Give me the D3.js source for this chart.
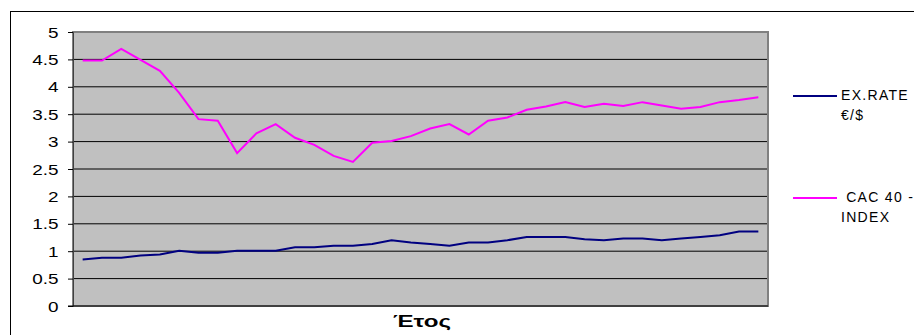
<!DOCTYPE html>
<html>
<head>
<meta charset="utf-8">
<script src="https://cdn.jsdelivr.net/npm/d3@7"></script>
<style>
  body { margin: 0; background: #ffffff; }
  svg { display: block; }
</style>
</head>
<body>
<script>
// periods along the x axis (no labels shown on the chart)
var periods = ["1", "2", "3", "4", "5", "6", "7", "8", "9", "10", "11", "12",
    "13", "14", "15", "16", "17", "18", "19", "20", "21", "22", "23", "24",
    "25", "26", "27", "28", "29", "30", "31", "32", "33", "34", "35", "36"];

var exRate = [0.85, 0.88, 0.88, 0.92, 0.94, 1.01, 0.97, 0.97, 1.01, 1.01, 1.01, 1.07,
    1.07, 1.10, 1.10, 1.13, 1.20, 1.16, 1.13, 1.10, 1.16, 1.16, 1.20, 1.26,
    1.26, 1.26, 1.22, 1.20, 1.23, 1.23, 1.20, 1.23, 1.26, 1.29, 1.36, 1.36];

var cacIndex = [4.48, 4.48, 4.69, 4.49, 4.29, 3.89, 3.41, 3.38, 2.79, 3.15, 3.32, 3.07,
    2.94, 2.74, 2.63, 2.98, 3.01, 3.10, 3.24, 3.32, 3.13, 3.38, 3.44, 3.58,
    3.64, 3.72, 3.63, 3.69, 3.65, 3.72, 3.66, 3.60, 3.63, 3.72, 3.76, 3.81];

var yTicks = [0, 0.5, 1, 1.5, 2, 2.5, 3, 3.5, 4, 4.5, 5];
var seriesNames = [["EX.RATE", "€/$"], [" CAC 40 -", "INDEX"]];
var seriesColors = ["#000080", "#ff00ff"];

var width = 914;
var height = 335;
var plotLeft = 73;
var plotRight = 768;
var plotTop = 32;
var plotBottom = 306;

var svg = d3.select("body")
    .append("svg")
    .attr("width", width)
    .attr("height", height)
    .attr("id", "drawhere")
    .style("font-family", "Arial, 'Liberation Sans', sans-serif");

// outer chart frame, runs off the right and bottom edges
svg.append("rect")
    .attr("x", 10.5)
    .attr("y", 11.5)
    .attr("width", 950)
    .attr("height", 400)
    .style("fill", "none")
    .style("stroke", "black");

var x = d3.scalePoint()
    .domain(periods)
    .range([plotLeft, plotRight])
    .padding(0.5);

var y = d3.scaleLinear()
    .domain([0, 5])
    .range([plotBottom, plotTop]);

// grey plot area
svg.append("rect")
    .attr("x", plotLeft)
    .attr("y", plotTop)
    .attr("width", plotRight - plotLeft)
    .attr("height", plotBottom - plotTop)
    .style("fill", "#c0c0c0");

// gridlines
svg.selectAll(".grid")
    .data(yTicks.filter(function(d) { return d > 0 && d < 5; }))
    .enter()
    .append("line")
    .attr("class", "grid")
    .attr("x1", plotLeft)
    .attr("x2", plotRight)
    .attr("y1", function(d) { return y(d); })
    .attr("y2", function(d) { return y(d); })
    .style("stroke", "black")
    .style("stroke-width", 1);

// plot border (grey)
svg.append("rect")
    .attr("x", plotLeft)
    .attr("y", plotTop)
    .attr("width", plotRight - plotLeft)
    .attr("height", plotBottom - plotTop)
    .style("fill", "none")
    .style("stroke", "#808080")
    .style("stroke-width", 2);

// y axis
var yAxis = svg.append("g")
    .attr("transform", "translate(" + plotLeft + ",0)")
    .call(d3.axisLeft(y).tickValues(yTicks).tickSize(5).tickPadding(0).tickFormat(d3.format("")));
yAxis.select(".domain").style("stroke", "#404040");
yAxis.selectAll(".tick line").style("stroke", "black");
yAxis.selectAll(".tick text")
    .attr("x", -14.5 / 1.35)
    .attr("dy", "0.36em")
    .attr("transform", "scale(1.35,1)")
    .style("font-size", "14px")
    .style("fill", "black");

// bottom axis line
svg.append("line")
    .attr("x1", plotLeft - 5)
    .attr("x2", plotRight)
    .attr("y1", plotBottom)
    .attr("y2", plotBottom)
    .style("stroke", "black");

// series lines
var line = d3.line()
    .x(function(d, i) { return x(periods[i]); })
    .y(function(d) { return y(d); });

[exRate, cacIndex].forEach(function(values, i) {
    svg.append("path")
        .datum(values)
        .attr("d", line)
        .style("fill", "none")
        .style("stroke", seriesColors[i])
        .style("stroke-width", 2);
});

// x axis title
svg.append("text")
    .attr("x", 422)
    .attr("y", 327)
    .attr("text-anchor", "middle")
    .attr("textLength", 58)
    .attr("lengthAdjust", "spacingAndGlyphs")
    .style("font-size", "17px")
    .style("font-weight", "bold")
    .text("Έτος");

// legend
var legendY = [96, 198];
seriesNames.forEach(function(name, i) {
    svg.append("line")
        .attr("x1", 793)
        .attr("x2", 837)
        .attr("y1", legendY[i])
        .attr("y2", legendY[i])
        .style("stroke", seriesColors[i])
        .style("stroke-width", 2);
    var t = svg.append("text")
        .attr("x", 841)
        .attr("y", legendY[i] + 3.5)
        .style("font-size", "14px")
        .style("letter-spacing", "1.3px")
        .style("white-space", "pre");
    t.append("tspan").attr("x", 841).text(name[0]);
    t.append("tspan").attr("x", 841).attr("dy", 20).text(name[1]);
});
</script>
</body>
</html>
